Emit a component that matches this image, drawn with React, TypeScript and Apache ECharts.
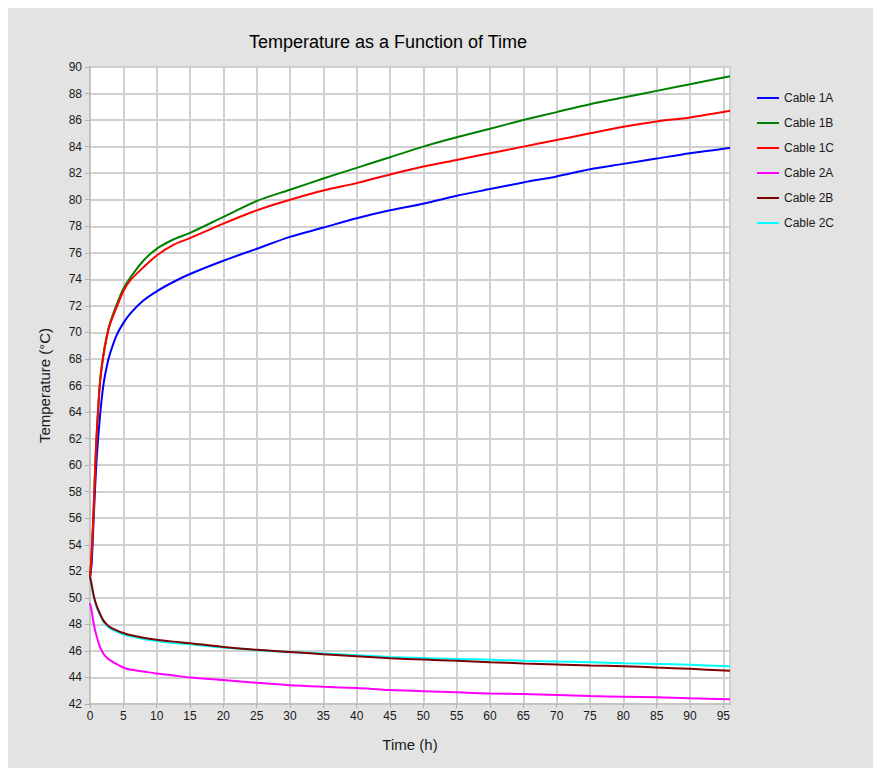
import React, { useEffect, useRef } from "react";
import * as echarts from "echarts";

const titleText = "Temperature as a Function of Time";
const xAxisName = "Time (h)";
const yAxisName = "Temperature (°C)";

const times = [0, 0.25, 0.5, 0.75, 1, 1.5, 2, 2.5, 3, 4, 5, 6, 8, 10, 12.5, 15, 20, 25, 30, 35, 40, 45, 50, 55, 60, 65, 70, 75, 80, 85, 90, 96];

const cable1A = [51.5, 52.6, 55.4, 58.1, 60.5, 63.7, 66.0, 67.4, 68.4, 69.8, 70.7, 71.4, 72.4, 73.1, 73.8, 74.4, 75.4, 76.3, 77.2, 77.9, 78.6, 79.2, 79.7, 80.3, 80.8, 81.3, 81.75, 82.3, 82.7, 83.1, 83.5, 83.9];
const cable1B = [51.5, 53.3, 56.0, 59.4, 62.3, 66.3, 68.3, 69.7, 70.7, 72.1, 73.3, 74.1, 75.4, 76.3, 77.0, 77.5, 78.7, 79.9, 80.75, 81.6, 82.4, 83.2, 84.0, 84.7, 85.35, 86.0, 86.6, 87.2, 87.7, 88.2, 88.7, 89.3];
const cable1C = [51.5, 53.5, 56.2, 59.5, 62.3, 66.2, 68.2, 69.6, 70.6, 71.9, 73.1, 73.9, 74.9, 75.8, 76.6, 77.1, 78.2, 79.2, 80.0, 80.7, 81.25, 81.9, 82.5, 83.0, 83.5, 84.0, 84.5, 85.0, 85.5, 85.9, 86.2, 86.7];
const cable2A = [49.6, 49.0, 48.2, 47.6, 47.1, 46.3, 45.8, 45.5, 45.3, 45.0, 44.75, 44.6, 44.45, 44.3, 44.15, 44.0, 43.8, 43.6, 43.42, 43.3, 43.2, 43.05, 42.97, 42.88, 42.8, 42.75, 42.68, 42.6, 42.55, 42.5, 42.43, 42.35];
const cable2B = [51.6, 51.0, 50.3, 49.8, 49.4, 48.8, 48.3, 48.0, 47.8, 47.55, 47.35, 47.2, 47.0, 46.85, 46.7, 46.58, 46.3, 46.08, 45.92, 45.75, 45.6, 45.45, 45.35, 45.25, 45.15, 45.06, 44.98, 44.9, 44.85, 44.75, 44.65, 44.5];
const cable2C = [51.6, 50.9, 50.2, 49.7, 49.3, 48.7, 48.2, 47.9, 47.7, 47.45, 47.25, 47.1, 46.9, 46.75, 46.6, 46.5, 46.25, 46.05, 45.92, 45.8, 45.68, 45.55, 45.47, 45.4, 45.33, 45.26, 45.2, 45.15, 45.08, 45.02, 44.95, 44.85];

const seriesNames = ["Cable 1A", "Cable 1B", "Cable 1C", "Cable 2A", "Cable 2B", "Cable 2C"];
const seriesValues = [cable1A, cable1B, cable1C, cable2A, cable2B, cable2C];
const seriesColors = ["#0000ff", "#008000", "#ff0000", "#ff00ff", "#800000", "#00ffff"];

const FONT = "'Liberation Sans', Arial, sans-serif";
const LINE_ICON = "path://M0,0L0.01,0L0,0.01Z M0,6L22,6L22,8L0,8Z M0,14L0.01,14L0,13.99Z";

export default function App() {
  const ref = useRef<HTMLDivElement>(null);
  useEffect(() => {
    if (!ref.current) return;
    const chart = echarts.init(ref.current, null, { renderer: "svg" });
    const drawOrder = [0, 1, 2, 3, 5, 4];
    const series = drawOrder.map((i) => ({
      name: seriesNames[i],
      type: "line",
      symbol: "none",
      smooth: 0.3,
      data: times.map((t, k) => [t, seriesValues[i][k]]),
      lineStyle: { color: seriesColors[i], width: 2 },
      itemStyle: { color: seriesColors[i] },
      z: 3,
    }));
    chart.setOption({
      animation: false,
      backgroundColor: "#e3e3e3",
      textStyle: { fontFamily: FONT },
      graphic: [
        {
          type: "text",
          x: 380,
          y: 34,
          style: {
            text: titleText,
            fill: "#000",
            font: `18px ${FONT}`,
            textAlign: "center",
            textVerticalAlign: "middle",
          },
        },
      ],
      legend: {
        orient: "vertical",
        left: 744,
        top: 78,
        itemWidth: 22,
        itemHeight: 14,
        itemGap: 11,
        icon: LINE_ICON,
        data: seriesNames.map((n, i) => ({ name: n, itemStyle: { color: seriesColors[i] } })),
        textStyle: { fontSize: 12, color: "#1a1a1a", fontFamily: FONT },
      },
      grid: {
        left: 82,
        top: 59,
        right: 143,
        bottom: 64,
        show: true,
        backgroundColor: "#ffffff",
        borderColor: "#c4c4c4",
        borderWidth: 2,
      },
      xAxis: {
        type: "value",
        min: 0,
        max: 96,
        interval: 5,
        name: xAxisName,
        nameLocation: "middle",
        nameGap: 33,
        nameTextStyle: { fontSize: 15, color: "#1a1a1a", fontFamily: FONT },
        axisLine: { show: true, lineStyle: { color: "#c4c4c4", width: 2 } },
        axisTick: { show: true, length: 4, lineStyle: { color: "#b0b0b0" } },
        axisLabel: { fontSize: 12, color: "#1a1a1a", margin: 6, showMaxLabel: false, fontFamily: FONT },
        splitLine: { show: true, lineStyle: { color: "#d0d0d0", width: 2 } },
      },
      yAxis: {
        type: "value",
        min: 42,
        max: 90,
        interval: 2,
        name: yAxisName,
        nameLocation: "middle",
        nameGap: 38,
        nameTextStyle: { fontSize: 15, color: "#1a1a1a", fontFamily: FONT },
        axisLine: { show: true, lineStyle: { color: "#c4c4c4", width: 2 } },
        axisTick: { show: true, length: 5, lineStyle: { color: "#b0b0b0" } },
        axisLabel: { fontSize: 12, color: "#1a1a1a", margin: 8, fontFamily: FONT },
        splitLine: { show: true, lineStyle: { color: "#d0d0d0", width: 2 } },
      },
      series,
    });
    return () => chart.dispose();
  }, []);
  return <div ref={ref} style={{ width: 865, height: 760 }} />;
}
